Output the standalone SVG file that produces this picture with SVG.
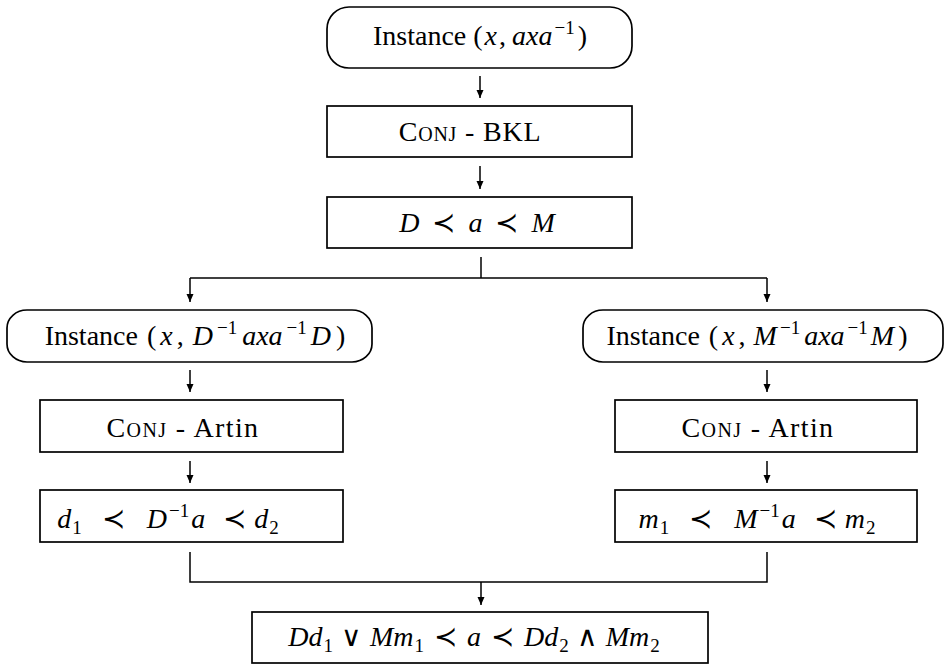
<svg xmlns="http://www.w3.org/2000/svg" width="945" height="666" viewBox="0 0 945 666">
<defs>
<marker id="ah" viewBox="0 0 8 10" refX="8" refY="5" markerWidth="8" markerHeight="10" markerUnits="userSpaceOnUse" orient="auto">
<path d="M0,1.5 L8,5 L0,8.5 Z" fill="#000"/>
</marker>
</defs>
<g id="connectors" fill="none" stroke="#000" stroke-width="1.5">
<line x1="480" y1="76" x2="480" y2="98" marker-end="url(#ah)"/>
<line x1="480" y1="166" x2="480" y2="189" marker-end="url(#ah)"/>
<line x1="481" y1="257" x2="481" y2="278"/>
<polyline points="190,278 767,278"/>
<line x1="190" y1="278" x2="190" y2="302" marker-end="url(#ah)"/>
<line x1="767" y1="278" x2="767" y2="302" marker-end="url(#ah)"/>
<line x1="190" y1="370" x2="190" y2="392" marker-end="url(#ah)"/>
<line x1="190" y1="461" x2="190" y2="483" marker-end="url(#ah)"/>
<line x1="767" y1="370" x2="767" y2="392" marker-end="url(#ah)"/>
<line x1="767" y1="461" x2="767" y2="483" marker-end="url(#ah)"/>
<polyline points="190,552 190,582 767,582 767,552"/>
<line x1="481" y1="582" x2="481" y2="605" marker-end="url(#ah)"/>
</g>
<g id="start">
<rect x="327" y="7" width="305" height="61" rx="22" ry="22" fill="#fff" stroke="#000" stroke-width="1.7"/>
<text font-family="Liberation Serif" font-size="28" text-anchor="middle" x="480" y="45">Instance<tspan dx="7">(</tspan><tspan font-style="italic" dx="2">x</tspan><tspan dx="2">,</tspan><tspan font-style="italic" dx="6">axa</tspan><tspan font-size="19" dx="2" dy="-11">−1</tspan><tspan dx="3" dy="11">)</tspan></text>
</g>
<g id="conj-bkl">
<rect x="327" y="106" width="305" height="51" fill="#fff" stroke="#000" stroke-width="1.7"/>
<text font-family="Liberation Serif" font-size="28" text-anchor="middle" x="470" y="141" letter-spacing="0.8"><tspan font-variant="small-caps">Conj</tspan> - BKL</text>
</g>
<g id="dam">
<rect x="327" y="197" width="305" height="51" fill="#fff" stroke="#000" stroke-width="1.7"/>
<text font-family="Liberation Serif" font-size="28" text-anchor="middle" x="477" y="232"><tspan font-style="italic">D</tspan><tspan dx="13">≺</tspan><tspan font-style="italic" dx="13">a</tspan><tspan dx="13">≺</tspan><tspan font-style="italic" dx="13">M</tspan></text>
</g>
<g id="inst-left">
<rect x="7" y="310" width="365" height="52" rx="20" ry="18" fill="#fff" stroke="#000" stroke-width="1.7"/>
<text font-family="Liberation Serif" font-size="28" text-anchor="middle" x="195" y="345">Instance<tspan dx="9">(</tspan><tspan font-style="italic" dx="4">x</tspan><tspan dx="4">,</tspan><tspan font-style="italic" dx="9">D</tspan><tspan font-size="19" dx="4" dy="-11">−1</tspan><tspan font-style="italic" dx="5" dy="11">axa</tspan><tspan font-size="19" dx="4" dy="-11">−1</tspan><tspan font-style="italic" dx="4" dy="11">D</tspan><tspan dx="5">)</tspan></text>
</g>
<g id="inst-right">
<rect x="583" y="310" width="360" height="52" rx="20" ry="18" fill="#fff" stroke="#000" stroke-width="1.7"/>
<text font-family="Liberation Serif" font-size="28" text-anchor="middle" x="757" y="345">Instance<tspan dx="9">(</tspan><tspan font-style="italic" dx="4">x</tspan><tspan dx="4">,</tspan><tspan font-style="italic" dx="8">M</tspan><tspan font-size="19" dx="3" dy="-11">−1</tspan><tspan font-style="italic" dx="4" dy="11">axa</tspan><tspan font-size="19" dx="3" dy="-11">−1</tspan><tspan font-style="italic" dx="3" dy="11">M</tspan><tspan dx="4">)</tspan></text>
</g>
<g id="artin-left">
<rect x="40" y="400" width="303" height="52" fill="#fff" stroke="#000" stroke-width="1.7"/>
<text font-family="Liberation Serif" font-size="28" text-anchor="middle" x="183" y="437" letter-spacing="1.4"><tspan font-variant="small-caps">Conj</tspan> - Artin</text>
</g>
<g id="artin-right">
<rect x="615" y="400" width="302" height="52" fill="#fff" stroke="#000" stroke-width="1.7"/>
<text font-family="Liberation Serif" font-size="28" text-anchor="middle" x="758" y="437" letter-spacing="1.4"><tspan font-variant="small-caps">Conj</tspan> - Artin</text>
</g>
<g id="d-left">
<rect x="40" y="490" width="303" height="52" fill="#fff" stroke="#000" stroke-width="1.7"/>
<text font-family="Liberation Serif" font-size="28" text-anchor="middle" x="168" y="528"><tspan font-style="italic">d</tspan><tspan font-size="19" dx="1" dy="6">1</tspan><tspan dx="20" dy="-6">≺</tspan><tspan font-style="italic" dx="22">D</tspan><tspan font-size="19" dx="2" dy="-11">−1</tspan><tspan font-style="italic" dx="2" dy="11">a</tspan><tspan dx="18">≺</tspan><tspan font-style="italic" dx="8">d</tspan><tspan font-size="19" dx="1" dy="6">2</tspan></text>
</g>
<g id="m-right">
<rect x="615" y="490" width="302" height="52" fill="#fff" stroke="#000" stroke-width="1.7"/>
<text font-family="Liberation Serif" font-size="28" text-anchor="middle" x="757" y="528"><tspan font-style="italic">m</tspan><tspan font-size="19" dx="1" dy="6">1</tspan><tspan dx="20" dy="-6">≺</tspan><tspan font-style="italic" dx="22">M</tspan><tspan font-size="19" dx="2" dy="-11">−1</tspan><tspan font-style="italic" dx="2" dy="11">a</tspan><tspan dx="18">≺</tspan><tspan font-style="italic" dx="8">m</tspan><tspan font-size="19" dx="1" dy="6">2</tspan></text>
</g>
<g id="result">
<rect x="252" y="612" width="456" height="51" fill="#fff" stroke="#000" stroke-width="1.7"/>
<text font-family="Liberation Serif" font-size="28" text-anchor="middle" x="474" y="646"><tspan font-style="italic">Dd</tspan><tspan font-size="19" dx="1" dy="6">1</tspan><tspan dx="8" dy="-6">∨</tspan><tspan font-style="italic" dx="8">Mm</tspan><tspan font-size="19" dx="1" dy="6">1</tspan><tspan dx="10" dy="-6">≺</tspan><tspan font-style="italic" dx="10">a</tspan><tspan dx="10">≺</tspan><tspan font-style="italic" dx="10">Dd</tspan><tspan font-size="19" dx="1" dy="6">2</tspan><tspan dx="8" dy="-6">∧</tspan><tspan font-style="italic" dx="8">Mm</tspan><tspan font-size="19" dx="1" dy="6">2</tspan></text>
</g>
</svg>
